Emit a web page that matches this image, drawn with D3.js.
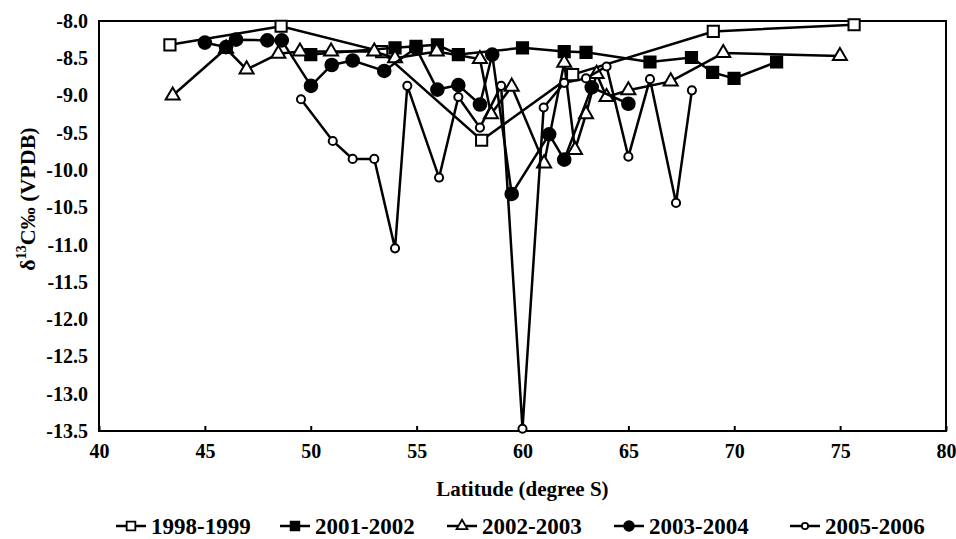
<!DOCTYPE html>
<html>
<head>
<meta charset="utf-8">
<script src="https://cdn.jsdelivr.net/npm/d3@7"></script>
<style>
  body { margin: 0; background: #fff; }
  text { font-family: "Liberation Serif", "Times New Roman", serif; font-weight: bold; fill: #000; }
</style>
</head>
<body>
<svg id="chart" width="956" height="539"></svg>
<script>
// Data: latitude (degree S) and delta13C values per season
var lat1998 = [43.35, 48.6, 53.35, 58.07, 62.37, 69.01, 75.66];
var val1998 = [-8.32, -8.07, -8.41, -9.60, -8.72, -8.14, -8.05];

var lat2001 = [50.0, 53.98, 54.97, 55.98, 56.97, 60.0, 61.97, 63.0, 66.02, 67.98, 68.98, 69.99, 72.0];
var val2001 = [-8.45, -8.36, -8.34, -8.32, -8.45, -8.36, -8.41, -8.42, -8.55, -8.49, -8.69, -8.77, -8.55];

var lat2002 = [43.48, 46.0, 46.97, 48.47, 49.49, 50.96, 53.0, 53.98, 55.95, 57.99, 58.51, 59.49, 61.02, 61.97, 62.48, 63.0, 63.5, 63.97, 65.0, 67.0, 69.48, 74.99];
var val2002 = [-9.0, -8.37, -8.65, -8.44, -8.41, -8.41, -8.41, -8.5, -8.41, -8.51, -9.25, -8.88, -9.91, -8.56, -9.73, -9.25, -8.71, -9.02, -8.93, -8.81, -8.43, -8.47];

var lat2003 = [45.0, 46.0, 46.47, 47.95, 48.63, 50.01, 50.99, 51.98, 53.47, 54.97, 55.98, 56.97, 57.99, 58.57, 59.49, 61.26, 61.97, 63.27, 65.0];
var val2003 = [-8.29, -8.35, -8.25, -8.26, -8.26, -8.87, -8.59, -8.53, -8.67, -8.36, -8.92, -8.86, -9.12, -8.45, -10.32, -9.52, -9.86, -8.89, -9.11];

var lat2005 = [49.54, 51.04, 51.98, 53.0, 53.98, 54.56, 56.06, 56.97, 57.99, 58.99, 60.0, 61.0, 61.97, 63.0, 63.97, 65.0, 66.02, 67.25, 68.0];
var val2005 = [-9.05, -9.61, -9.85, -9.85, -11.05, -8.87, -10.10, -9.02, -9.43, -8.87, -13.47, -9.16, -8.83, -8.77, -8.61, -9.82, -8.78, -10.44, -8.93];

var seasons = ["1998-1999", "2001-2002", "2002-2003", "2003-2004", "2005-2006"];
var xTicks = [40, 45, 50, 55, 60, 65, 70, 75, 80];
var yTicks = [-8.0, -8.5, -9.0, -9.5, -10.0, -10.5, -11.0, -11.5, -12.0, -12.5, -13.0, -13.5];

var series = [
    { name: seasons[0], lat: lat1998, val: val1998, shape: "square", fill: "#fff" },
    { name: seasons[1], lat: lat2001, val: val2001, shape: "square", fill: "#000" },
    { name: seasons[2], lat: lat2002, val: val2002, shape: "triangle", fill: "#fff" },
    { name: seasons[3], lat: lat2003, val: val2003, shape: "circle", fill: "#000" },
    { name: seasons[4], lat: lat2005, val: val2005, shape: "smallcircle", fill: "#fff" }
];

var plotLeft = 99, plotRight = 946, plotTop = 21, plotBottom = 431;

var svg = d3.select("#chart");

var x = d3.scaleLinear().domain([40, 80]).range([plotLeft, plotRight]);
var y = d3.scaleLinear().domain([-8, -13.5]).range([plotTop, plotBottom]);

// symbol path for each marker type
function symbolPath(shape, scale) {
    if (shape === "square") return d3.symbol().type(d3.symbolSquare).size(125 * scale)();
    if (shape === "triangle") return d3.symbol().type(d3.symbolTriangle).size(85 * scale)();
    if (shape === "circle") return d3.symbol().type(d3.symbolCircle).size(125 * scale)();
    return d3.symbol().type(d3.symbolCircle).size(52 * scale)();
}

// X axis
var xAxis = svg.append("g")
    .attr("transform", "translate(0," + plotBottom + ")")
    .call(d3.axisBottom(x).tickValues(xTicks).tickSize(-5).tickPadding(13).tickFormat(d3.format("d")));
xAxis.select(".domain").remove();
xAxis.selectAll("line").attr("stroke", "#000").attr("stroke-width", 2);
xAxis.selectAll("text").style("font-size", "20px");

// Y axis
var yAxis = svg.append("g")
    .attr("transform", "translate(" + plotLeft + ",0)")
    .call(d3.axisLeft(y).tickValues(yTicks).tickSize(0).tickPadding(11)
        .tickFormat(function (d) { return d.toFixed(1); }));
yAxis.select(".domain").remove();
yAxis.selectAll("text").style("font-size", "20px");

// Frame
svg.append("rect")
    .attr("x", plotLeft).attr("y", plotTop)
    .attr("width", plotRight - plotLeft).attr("height", plotBottom - plotTop)
    .attr("fill", "none").attr("stroke", "#000").attr("stroke-width", 2);

// Series
var line = d3.line()
    .x(function (d) { return x(d[0]); })
    .y(function (d) { return y(d[1]); });

series.forEach(function (s) {
    var pts = s.lat.map(function (d, i) { return [d, s.val[i]]; });
    var g = svg.append("g");
    g.append("path")
        .datum(pts)
        .attr("d", line)
        .attr("fill", "none")
        .attr("stroke", "#000")
        .attr("stroke-width", 2.5);
    g.selectAll("path.mark")
        .data(pts)
        .enter().append("path")
        .attr("class", "mark")
        .attr("transform", function (d) { return "translate(" + x(d[0]) + "," + y(d[1]) + ")"; })
        .attr("d", symbolPath(s.shape, 1))
        .attr("fill", s.fill)
        .attr("stroke", "#000")
        .attr("stroke-width", 2);
});

// Axis titles
svg.append("text")
    .attr("x", (plotLeft + plotRight) / 2)
    .attr("y", 496)
    .attr("text-anchor", "middle")
    .style("font-size", "21px")
    .text("Latitude (degree S)");

var yt = svg.append("text")
    .attr("transform", "translate(35,199) rotate(-90)")
    .attr("text-anchor", "middle")
    .style("font-size", "22px");
yt.append("tspan").text("δ");
yt.append("tspan").attr("dy", -9).style("font-size", "14px").text("13");
yt.append("tspan").attr("dy", 9).text("C‰ (VPDB)");

// Legend
var legendX = [116, 280, 447, 614, 790];
var legend = svg.append("g");
series.forEach(function (s, i) {
    var lg = legend.append("g").attr("transform", "translate(" + legendX[i] + ",526)");
    lg.append("line")
        .attr("x1", 0).attr("x2", 30)
        .attr("stroke", "#000").attr("stroke-width", 2.5);
    lg.append("path")
        .attr("transform", "translate(15,0)")
        .attr("d", symbolPath(s.shape, 0.6))
        .attr("fill", s.fill)
        .attr("stroke", "#000")
        .attr("stroke-width", 1.8);
    lg.append("text")
        .attr("x", 35)
        .attr("dy", "0.35em")
        .style("font-size", "23px")
        .text(s.name);
});
</script>
</body>
</html>
